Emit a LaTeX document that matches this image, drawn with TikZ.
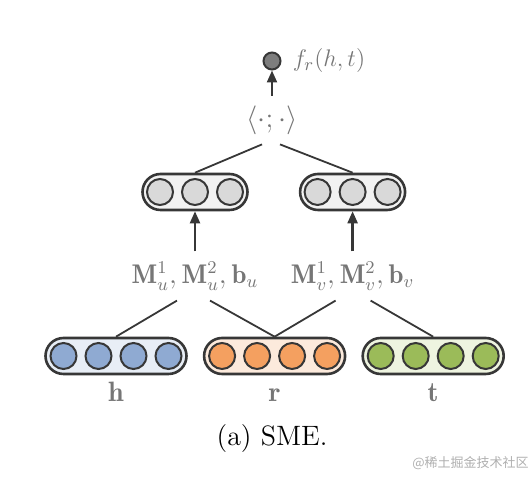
\documentclass[tikz,border=0pt]{standalone}
\usepackage{amsmath}
\usepackage{fontspec}
\newfontfamily\wmfont{Noto Sans CJK SC}
\usetikzlibrary{arrows.meta,positioning}
\definecolor{txtgray}{RGB}{118,118,118}
\definecolor{linegray}{RGB}{55,55,55}
\definecolor{hblue}{RGB}{143,170,210}
\definecolor{hbg}{RGB}{232,238,246}
\definecolor{rorange}{RGB}{244,160,96}
\definecolor{rbg}{RGB}{252,234,220}
\definecolor{tgreen}{RGB}{155,187,89}
\definecolor{tbg}{RGB}{238,244,224}
\definecolor{hidgray}{RGB}{217,217,217}
\definecolor{hidbg}{RGB}{242,242,242}
\definecolor{outgray}{RGB}{125,125,125}
\definecolor{wmgray}{RGB}{175,175,175}

\begin{document}
\begin{tikzpicture}[
  x=0.5pt, y=-0.5pt, >={Triangle[length=6pt,width=5pt]}, node distance=5pt,
  vec/.style={draw=linegray, line width=1.3pt, rounded corners=9pt,
              minimum height=18pt, inner sep=0pt},
  emb/.style={vec, minimum width=70.5pt},
  hid/.style={vec, minimum width=52.5pt, fill=hidbg},
  unit/.style={circle, draw=linegray, line width=1pt, minimum size=13pt, inner sep=0pt},
  lbl/.style={text=txtgray, font=\fontsize{14}{16}\selectfont,
              text height=1.6ex, text depth=0pt, inner sep=0pt},
  par/.style={text=txtgray, font=\fontsize{13.5}{15}\selectfont, inner sep=0pt, outer ysep=5pt},
  link/.style={draw=linegray, line width=0.9pt},
  up/.style={->, draw=linegray, line width=1.1pt}]
\useasboundingbox (0,0) rectangle (532,480);
% input embeddings
\node[emb, fill=hbg] (hbox) at (116,356) {};
\node[emb, fill=rbg, right=7.5pt of hbox] (rbox) {};
\node[emb, fill=tbg, right=7.5pt of rbox] (tbox) {};
\foreach \i in {1,...,4} {
  \node[unit, fill=hblue] (h\i) at ([xshift={(\i-2.5)*17.5pt}]hbox.center) {};
  \node[unit, fill=rorange] (r\i) at ([xshift={(\i-2.5)*17.5pt}]rbox.center) {};
  \node[unit, fill=tgreen] (t\i) at ([xshift={(\i-2.5)*17.5pt}]tbox.center) {};
}
\node[lbl, below=6pt of hbox] (hlbl) {$\mathbf{h}$};
\node[lbl, below=6pt of rbox] (rlbl) {$\mathbf{r}$};
\node[lbl, below=6pt of tbox] (tlbl) {$\mathbf{t}$};
% hidden layers
\node[hid] (ubox) at (195,192) {};
\node[hid, right=25pt of ubox] (vbox) {};
\foreach \i in {1,2,3} {
  \node[unit, fill=hidgray] (u\i) at ([xshift={(\i-2)*17.5pt}]ubox.center) {};
  \node[unit, fill=hidgray] (v\i) at ([xshift={(\i-2)*17.5pt}]vbox.center) {};
}
% projections
\node[par] (upar) at (ubox |- 0,276) {$\mathbf{M}_u^1, \mathbf{M}_u^2, \mathbf{b}_u$};
\node[par] (vpar) at (vbox |- 0,276) {$\mathbf{M}_v^1, \mathbf{M}_v^2, \mathbf{b}_v$};
\draw[link] ([xshift=-9pt]upar.south) -- (hbox.north);
\draw[link] ([xshift=7.5pt]upar.south) -- (rbox.north);
\draw[link] ([xshift=-8.5pt]vpar.south) -- (rbox.north);
\draw[link] ([xshift=9pt]vpar.south) -- (tbox.north);
\draw[up] (upar.north) -- (ubox.south);
\draw[up] (vpar.north) -- (vbox.south);
% score
\node[par] (inner) at (272,120) {$\langle\cdot;\cdot\rangle$};
\draw[link] ([xshift=-5pt]inner.south) -- (ubox.north);
\draw[link] ([xshift=4pt]inner.south) -- (vbox.north);
\node[unit, fill=outgray, minimum size=8.5pt] (out) at (272,61) {};
\draw[up] (inner.north) -- (out.south);
\node[par, font=\fontsize{13}{15}\selectfont, right=5.5pt of out] (score) {$f_r(h,t)$};
\node[font=\fontsize{14}{16}\selectfont] (cap) at (272,439) {(a) SME.};
\node[font=\wmfont\fontsize{6.5}{8}\selectfont, text=wmgray, anchor=east, inner sep=0pt] (mark) at (529,463) {@稀土掘金技术社区};
\end{tikzpicture}
\end{document}
